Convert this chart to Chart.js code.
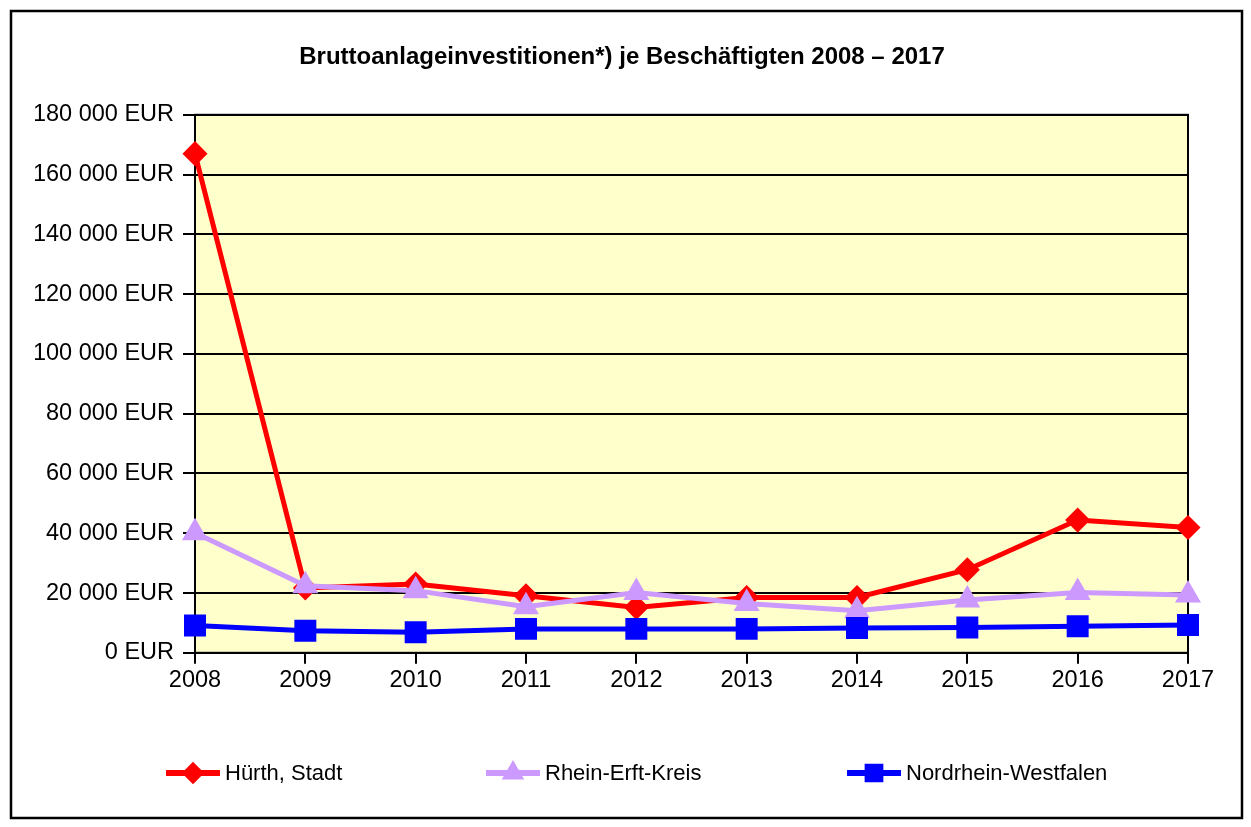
<!DOCTYPE html>
<html>
<head>
<meta charset="utf-8">
<script src="https://cdn.jsdelivr.net/npm/chart.js@4/dist/chart.umd.min.js"></script>
<style>
  html, body { margin: 0; padding: 0; background: #fff; }
  #wrap { width: 1251px; height: 827px; }
</style>
</head>
<body>
<div id="wrap"><canvas id="chart" width="1251" height="827"></canvas></div>
<script>
// Data
const years = ['2008', '2009', '2010', '2011', '2012', '2013', '2014', '2015', '2016', '2017'];
const huerth = [167000, 21700, 23000, 19100, 15200, 18500, 18500, 27800, 44400, 41900];
const rheinErft = [40200, 22400, 20800, 15400, 20200, 16500, 14100, 17700, 20200, 19300];
const nrw = [9100, 7400, 6900, 8000, 8000, 8000, 8300, 8500, 8900, 9300];
const seriesNames = ['Hürth, Stadt', 'Rhein-Erft-Kreis', 'Nordrhein-Westfalen'];
const titleText = 'Bruttoanlageinvestitionen*) je Beschäftigten 2008 – 2017';

const FONT = "'Liberation Sans', Arial, sans-serif";

function eur(v) {
  return String(v).replace(/\B(?=(\d{3})+(?!\d))/g, ' ') + ' EUR';
}

// white page, outer frame and yellow plot area
const frame = {
  id: 'frame',
  beforeDraw(chart) {
    const ctx = chart.ctx;
    const a = chart.chartArea;
    ctx.save();
    ctx.fillStyle = '#ffffff';
    ctx.fillRect(0, 0, chart.width, chart.height);
    ctx.strokeStyle = '#000';
    ctx.lineWidth = 2.5;
    ctx.strokeRect(11, 11, chart.width - 20, chart.height - 20);
    ctx.fillStyle = '#FFFFCC';
    ctx.fillRect(a.left, a.top, a.right - a.left, a.bottom - a.top);
    ctx.restore();
  },
  beforeDatasetsDraw(chart) {
    const ctx = chart.ctx;
    const a = chart.chartArea;
    ctx.save();
    ctx.strokeStyle = '#000';
    ctx.lineWidth = 2;
    ctx.strokeRect(a.left, a.top, a.right - a.left, a.bottom - a.top);
    ctx.restore();
  }
};

// legend at the bottom, line + marker like the original
const legendX = [166, 486, 847];
const bottomLegend = {
  id: 'bottomLegend',
  afterDraw(chart) {
    const ctx = chart.ctx;
    const y = 773;
    chart.data.datasets.forEach((ds, i) => {
      const x = legendX[i];
      ctx.save();
      ctx.strokeStyle = ds.borderColor;
      ctx.lineWidth = 6;
      ctx.beginPath();
      ctx.moveTo(x, y);
      ctx.lineTo(x + 54, y);
      ctx.stroke();
      ctx.fillStyle = ds.pointBackgroundColor;
      ctx.strokeStyle = ds.pointBorderColor;
      if (Chart.helpers && Chart.helpers.drawPoint) {
        Chart.helpers.drawPoint(ctx, {
          pointStyle: ds.pointStyle,
          radius: ds.pointStyle === 'rect' ? 9 : 7,
          rotation: 0,
          borderWidth: 1
        }, x + 27, y);
      }
      ctx.fillStyle = '#000';
      ctx.font = '22px ' + FONT;
      ctx.textBaseline = 'middle';
      ctx.fillText(ds.label, x + 59, y + 1);
      ctx.restore();
    });
  }
};

new Chart(document.getElementById('chart'), {
  type: 'line',
  data: {
    labels: years,
    datasets: [{
      label: seriesNames[0],
      data: huerth,
      borderColor: '#FF0000',
      backgroundColor: '#FF0000',
      pointBackgroundColor: '#FF0000',
      pointBorderColor: '#FF0000',
      borderWidth: 5,
      pointStyle: 'rectRot',
      pointRadius: 9,
      order: 3
    }, {
      label: seriesNames[1],
      data: rheinErft,
      borderColor: '#CC99FF',
      backgroundColor: '#CC99FF',
      pointBackgroundColor: '#CC99FF',
      pointBorderColor: '#CC99FF',
      borderWidth: 5,
      pointStyle: 'triangle',
      pointRadius: 10,
      order: 2
    }, {
      label: seriesNames[2],
      data: nrw,
      borderColor: '#0000FF',
      backgroundColor: '#0000FF',
      pointBackgroundColor: '#0000FF',
      pointBorderColor: '#0000FF',
      borderWidth: 5,
      pointStyle: 'rect',
      pointRadius: 12,
      order: 1
    }]
  },
  options: {
    responsive: false,
    animation: false,
    devicePixelRatio: 1,
    layout: {
      padding: { left: 35, right: 42, top: 30, bottom: 129 }
    },
    elements: {
      line: { tension: 0, fill: false },
      point: { borderWidth: 1, hoverRadius: 10 }
    },
    plugins: {
      legend: { display: false },
      tooltip: { enabled: false },
      title: {
        display: true,
        text: titleText,
        color: '#000',
        font: { family: FONT, size: 24, weight: 'bold' },
        padding: { top: 13, bottom: 43 }
      }
    },
    scales: {
      x: {
        offset: false,
        grid: {
          drawOnChartArea: false,
          color: '#000',
          lineWidth: 2,
          tickLength: 11
        },
        border: { display: true, color: '#000', width: 2 },
        ticks: {
          color: '#000',
          font: { family: FONT, size: 23.5 },
          padding: 3,
          maxRotation: 0,
          autoSkip: false
        }
      },
      y: {
        min: 0,
        max: 180000,
        afterFit(scale) { scale.width = 160; },
        grid: {
          color: '#000',
          lineWidth: 2,
          tickLength: 12
        },
        border: { display: true, color: '#000', width: 2 },
        ticks: {
          stepSize: 20000,
          color: '#000',
          font: { family: FONT, size: 23.5 },
          padding: 9,
          callback: (v) => eur(v)
        }
      },
      // empty spacer on the right so the plot ends where the original does
      yRight: {
        position: 'right',
        min: 0,
        max: 180000,
        afterFit(scale) { scale.width = 21; },
        grid: { display: false },
        border: { display: false },
        ticks: { display: false }
      }
    }
  },
  plugins: [frame, bottomLegend]
});
</script>
</body>
</html>
